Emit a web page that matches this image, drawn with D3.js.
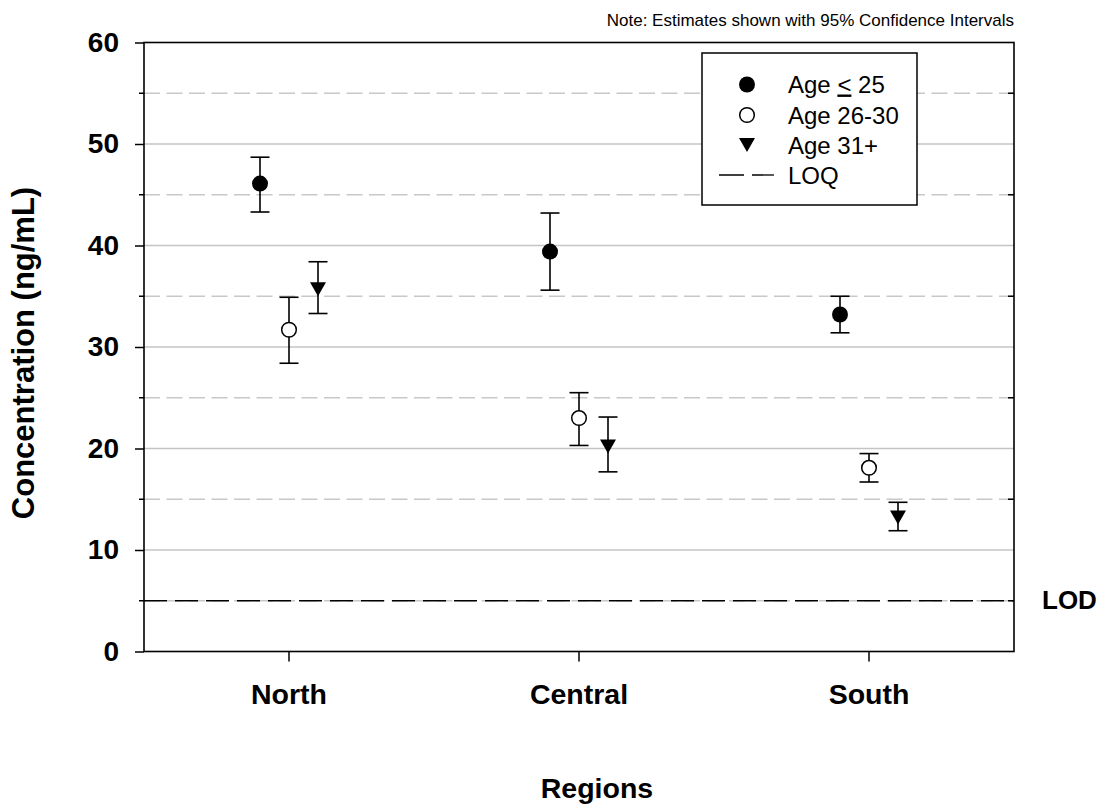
<!DOCTYPE html>
<html>
<head>
<meta charset="utf-8">
<script src="https://cdn.jsdelivr.net/npm/d3@7"></script>
<style>
  body { margin: 0; background: #fff; }
  svg text { font-family: "Liberation Sans", Arial, sans-serif; }
</style>
</head>
<body>
<div id="chart"></div>
<script>
// Data
const regions = ['North', 'Central', 'South'];
const groups = ['Age <= 25', 'Age 26-30', 'Age 31+'];

const age25Mean = [46.1, 39.4, 33.2];
const age25Lower = [43.3, 35.6, 31.4];
const age25Upper = [48.7, 43.2, 35.0];

const age26Mean = [31.7, 23.0, 18.1];
const age26Lower = [28.4, 20.3, 16.7];
const age26Upper = [34.9, 25.5, 19.5];

const age31Mean = [35.7, 20.2, 13.2];
const age31Lower = [33.3, 17.7, 11.9];
const age31Upper = [38.4, 23.1, 14.7];

const majorTicks = [0, 10, 20, 30, 40, 50, 60];
const minorTicks = [5, 15, 25, 35, 45, 55];
const lodValue = 5;

// Layout
const WIDTH = 1105;
const HEIGHT = 812;
const MARGIN = { TOP: 42.5, RIGHT: 91, BOTTOM: 160.5, LEFT: 144 };
const PW = WIDTH - MARGIN.LEFT - MARGIN.RIGHT;
const PH = HEIGHT - MARGIN.TOP - MARGIN.BOTTOM;

const series = [
  { name: groups[0], mean: age25Mean, lower: age25Lower, upper: age25Upper, shape: 'filled' },
  { name: groups[1], mean: age26Mean, lower: age26Lower, upper: age26Upper, shape: 'open' },
  { name: groups[2], mean: age31Mean, lower: age31Lower, upper: age31Upper, shape: 'triangle' }
];

const svg = d3.select('#chart')
  .append('svg')
  .attr('width', WIDTH)
  .attr('height', HEIGHT);

const g = svg.append('g')
  .attr('transform', `translate(${MARGIN.LEFT}, ${MARGIN.TOP})`);

// Scales
const xScale = d3.scaleBand().domain(regions).range([0, PW]);
const xOffset = d3.scalePoint().domain(groups).range([-29, 29]);
const yScale = d3.scaleLinear().domain([0, 60]).range([PH, 0]);

// Gridlines
g.selectAll('.grid-major')
  .data(majorTicks.filter(d => d > 0 && d < 60))
  .enter()
  .append('line')
  .attr('x1', 0).attr('x2', PW)
  .attr('y1', d => yScale(d)).attr('y2', d => yScale(d))
  .attr('stroke', '#c4c4c4')
  .attr('stroke-width', 1.4);

g.selectAll('.grid-minor')
  .data(minorTicks)
  .enter()
  .append('line')
  .attr('x1', 0).attr('x2', PW)
  .attr('y1', d => yScale(d)).attr('y2', d => yScale(d))
  .attr('stroke', '#c8c8c8')
  .attr('stroke-width', 1.4)
  .attr('stroke-dasharray', '16 6.5');

// LOD line
g.append('line')
  .attr('x1', 0).attr('x2', PW)
  .attr('y1', yScale(lodValue)).attr('y2', yScale(lodValue))
  .attr('stroke', '#000')
  .attr('stroke-width', 1.3)
  .attr('stroke-dasharray', '23 8');

svg.append('text')
  .attr('x', 1042)
  .attr('y', MARGIN.TOP + yScale(lodValue) + 8.5)
  .style('font-size', '26px')
  .style('font-weight', 'bold')
  .text('LOD');

// Axes
const yAxis = g.append('g')
  .call(d3.axisLeft(yScale).tickValues(majorTicks).tickSize(9).tickPadding(16).tickSizeOuter(0));
yAxis.select('.domain').remove();
yAxis.selectAll('line').attr('stroke-width', 1.5);
yAxis.selectAll('text')
  .style('font-size', '28px')
  .style('font-weight', 'bold')
  .attr('fill', '#000');

g.selectAll('.minor-tick')
  .data(minorTicks)
  .enter()
  .append('line')
  .attr('x1', -5).attr('x2', 0)
  .attr('y1', d => yScale(d)).attr('y2', d => yScale(d))
  .attr('stroke', '#000')
  .attr('stroke-width', 1.5);

g.selectAll('.minor-tick-right')
  .data(minorTicks)
  .enter()
  .append('line')
  .attr('x1', PW - 6).attr('x2', PW)
  .attr('y1', d => yScale(d)).attr('y2', d => yScale(d))
  .attr('stroke', '#000')
  .attr('stroke-width', 1.5);

const xAxis = g.append('g')
  .attr('transform', `translate(0, ${PH})`)
  .call(d3.axisBottom(xScale).tickSize(10).tickPadding(22).tickSizeOuter(0));
xAxis.select('.domain').remove();
xAxis.selectAll('line').attr('stroke-width', 1.5);
xAxis.selectAll('text')
  .style('font-size', '28.5px')
  .style('font-weight', 'bold')
  .attr('fill', '#000');

// Frame
g.append('rect')
  .attr('x', 0).attr('y', 0)
  .attr('width', PW).attr('height', PH)
  .attr('fill', 'none')
  .attr('stroke', '#000')
  .attr('stroke-width', 1.6);

// Axis titles
svg.append('text')
  .attr('transform', `translate(34, 353) rotate(-90)`)
  .attr('text-anchor', 'middle')
  .style('font-size', '31px')
  .style('font-weight', 'bold')
  .text('Concentration (ng/mL)');

svg.append('text')
  .attr('x', 597)
  .attr('y', 798)
  .attr('text-anchor', 'middle')
  .style('font-size', '28.5px')
  .style('font-weight', 'bold')
  .text('Regions');

svg.append('text')
  .attr('x', MARGIN.LEFT + PW)
  .attr('y', 26)
  .attr('text-anchor', 'end')
  .style('font-size', '17px')
  .text('Note: Estimates shown with 95% Confidence Intervals');

// Markers
const triangle = 'M-8,-7L8,-7L0,7Z';

function drawMarker(sel, shape) {
  if (shape === 'filled') {
    sel.append('circle').attr('r', 8).attr('fill', '#000');
  } else if (shape === 'open') {
    sel.append('circle').attr('r', 7.3).attr('fill', '#fff')
      .attr('stroke', '#000').attr('stroke-width', 1.5);
  } else {
    sel.append('path').attr('d', triangle).attr('fill', '#000');
  }
}

series.forEach(s => {
  const pts = regions.map((r, i) => ({
    x: xScale(r) + xScale.bandwidth() / 2 + xOffset(s.name),
    mean: s.mean[i], lower: s.lower[i], upper: s.upper[i]
  }));

  const bars = g.append('g');
  bars.selectAll('.whisker')
    .data(pts)
    .enter()
    .append('line')
    .attr('x1', d => d.x).attr('x2', d => d.x)
    .attr('y1', d => yScale(d.lower)).attr('y2', d => yScale(d.upper))
    .attr('stroke', '#000').attr('stroke-width', 1.6);

  ['lower', 'upper'].forEach(k => {
    bars.selectAll('.cap-' + k)
      .data(pts)
      .enter()
      .append('line')
      .attr('x1', d => d.x - 9.5).attr('x2', d => d.x + 9.5)
      .attr('y1', d => yScale(d[k])).attr('y2', d => yScale(d[k]))
      .attr('stroke', '#000').attr('stroke-width', 1.6);
  });

  g.selectAll(null)
    .data(pts)
    .enter()
    .append('g')
    .attr('transform', d => `translate(${d.x}, ${yScale(d.mean)})`)
    .each(function() { drawMarker(d3.select(this), s.shape); });
});

// Legend
const legend = svg.append('g').attr('transform', 'translate(702, 53)');
legend.append('rect')
  .attr('width', 215).attr('height', 152)
  .attr('fill', '#fff')
  .attr('stroke', '#000')
  .attr('stroke-width', 1.5);

const rowY = [31.5, 62, 92, 122];

series.forEach((s, i) => {
  const item = legend.append('g').attr('transform', `translate(45, ${rowY[i]})`);
  drawMarker(item, s.shape);
});

legend.append('line')
  .attr('x1', 17).attr('x2', 72)
  .attr('y1', rowY[3]).attr('y2', rowY[3])
  .attr('stroke', '#000').attr('stroke-width', 1.3)
  .attr('stroke-dasharray', '25 8');

const labelX = 86;
const t0 = legend.append('text')
  .attr('x', labelX).attr('y', rowY[0] + 8)
  .style('font-size', '24px');
t0.append('tspan').text('Age ');
t0.append('tspan').style('text-decoration', 'underline').text('<');
t0.append('tspan').text(' 25');

legend.append('text').attr('x', labelX).attr('y', rowY[1] + 8.5)
  .style('font-size', '24px').text('Age 26-30');
legend.append('text').attr('x', labelX).attr('y', rowY[2] + 8.5)
  .style('font-size', '24px').text('Age 31+');
legend.append('text').attr('x', labelX).attr('y', rowY[3] + 8.5)
  .style('font-size', '24px').text('LOQ');
</script>
</body>
</html>
